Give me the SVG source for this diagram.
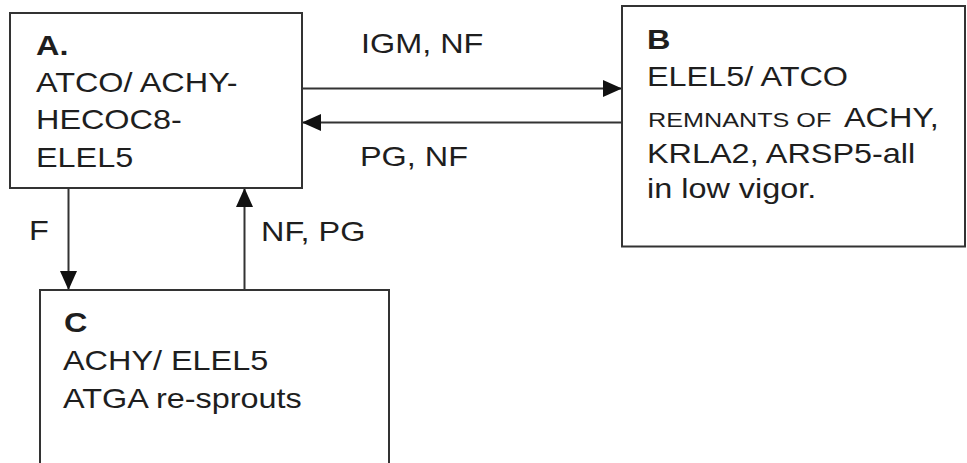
<svg xmlns="http://www.w3.org/2000/svg" width="967" height="463" viewBox="0 0 967 463">
<style>
.box{fill:#fff;stroke:#333;stroke-width:2}
.t{font-family:"Liberation Sans",Arial,sans-serif;font-size:27px;fill:#1e1e1e}
.b{font-weight:bold}
.sc{font-size:21px}
.edge{stroke:#333;stroke-width:2;fill:none}
</style>
<defs>
<marker id="ah" markerUnits="userSpaceOnUse" markerWidth="20" markerHeight="18" refX="19" refY="8.5" orient="auto">
<path d="M0,0 L19,8.5 L0,17 z" fill="#111"/>
</marker>
</defs>
<rect width="967" height="463" fill="#fff"/>
<g id="connectors">
<line class="edge" x1="302" y1="88.5" x2="622" y2="88.5" marker-end="url(#ah)"/>
<line class="edge" x1="622" y1="122.5" x2="302" y2="122.5" marker-end="url(#ah)"/>
<line class="edge" x1="68.5" y1="175" x2="68.5" y2="290" marker-end="url(#ah)"/>
<line class="edge" x1="244.5" y1="290" x2="244.5" y2="188" marker-end="url(#ah)"/>
<g transform="scale(1.2,1)">
<text class="t" x="300.83" y="53">IGM, NF</text>
<text class="t" x="300" y="166">PG, NF</text>
<text class="t" x="24.17" y="240">F</text>
<text class="t" x="217.5" y="241">NF, PG</text>
</g>
</g>
<g id="nodeA">
<rect class="box" x="10" y="13" width="292" height="175"/>
<g transform="scale(1.2,1)">
<text class="t b" x="30" y="55">A.</text>
<text class="t" x="30" y="92">ATCO/ ACHY-</text>
<text class="t" x="30" y="129.5">HECOC8-</text>
<text class="t" x="30" y="167">ELEL5</text>
</g>
</g>
<g id="nodeB">
<rect class="box" x="622" y="6" width="343" height="240.5"/>
<g transform="scale(1.2,1)">
<text class="t b" x="539.17" y="49.5" font-size="24">B</text>
<text class="t" x="539.17" y="86">ELEL5/ ATCO</text>
<text class="t sc" x="540" y="126.7">REMNANTS OF</text>
<text class="t" x="703.33" y="126.7">ACHY,</text>
<text class="t" x="539.17" y="163.3">KRLA2, ARSP5-all</text>
<text class="t" x="539.17" y="198.3">in low vigor.</text>
</g>
</g>
<g id="nodeC">
<rect class="box" x="40" y="290" width="349" height="190"/>
<g transform="scale(1.2,1)">
<text class="t b" x="53.33" y="332" font-size="21">C</text>
<text class="t" x="52.5" y="370">ACHY/ ELEL5</text>
<text class="t" x="52.5" y="408.3">ATGA re-sprouts</text>
</g>
</g>
</svg>
